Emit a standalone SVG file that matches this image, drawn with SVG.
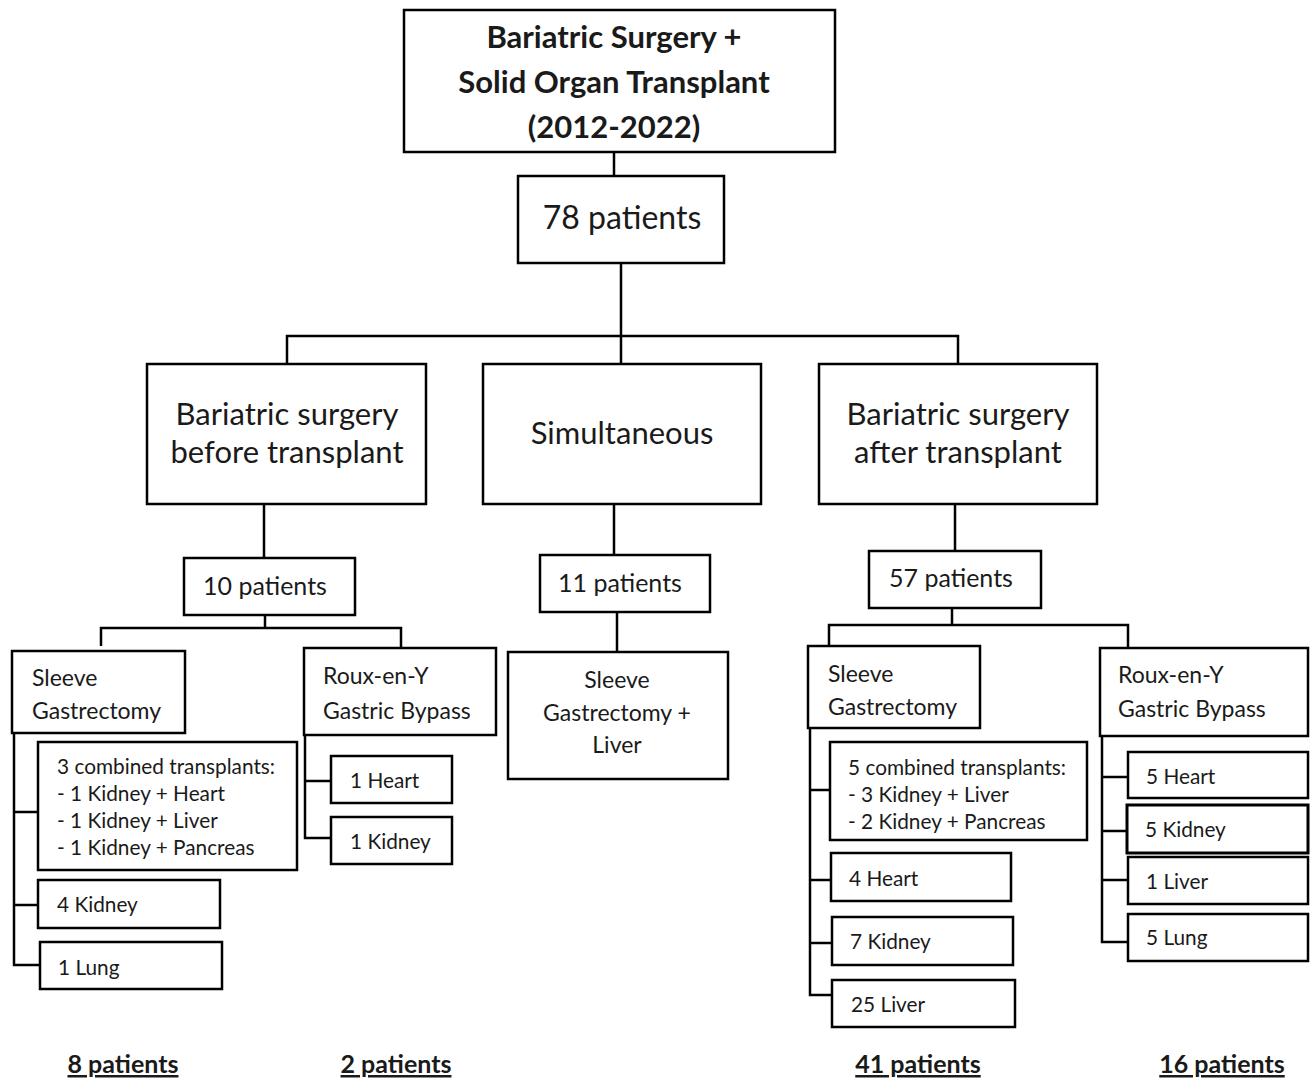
<svg xmlns="http://www.w3.org/2000/svg" width="1310" height="1079" viewBox="0 0 1310 1079">
<style>
.n rect{fill:#fff;stroke:#000;stroke-width:2.5}
#connectors path{fill:none;stroke:#000;stroke-width:2.5}
text{font-family:Lato,"Open Sans",sans-serif;fill:#1a1a1a}
.t{font-size:31px;font-weight:bold;text-anchor:middle}
.b{font-size:31px;text-anchor:middle}
.m{font-size:32px;text-anchor:middle}
.p{font-size:25px;text-anchor:middle}
.s{font-size:23px}
.c{font-size:20.8px}
.f{font-size:25px;font-weight:bold;text-anchor:middle;text-decoration:underline}
</style>
<rect width="1310" height="1079" fill="#fff"/>
<g id="connectors">
<path d="M614 152V176"/>
<path d="M621 263V364M287 364V336H958V364"/>
<path d="M264 504V558M265 615V628M101 646V628H401V648"/>
<path d="M14 733V965H40M14 812H38M14 905H38"/>
<path d="M305 735V838H331M305 781H331"/>
<path d="M614 504V555M617 612V652"/>
<path d="M955 504V551M952 608V625M829 646V625H1128V648"/>
<path d="M810 728V995H832M810 790H830M810 880H831M810 943H832"/>
<path d="M1102 736V942H1128M1102 777H1128M1102 831H1127M1102 880H1128"/>
</g>
<g id="n-top" class="n"><rect x="404" y="10" width="431" height="142"/>
<text class="t" x="614" y="48">Bariatric Surgery +</text>
<text class="t" x="614" y="93">Solid Organ Transplant</text>
<text class="t" x="614" y="138">(2012-2022)</text></g>
<g id="n-78" class="n"><rect x="518" y="176" width="206" height="87"/><text class="m" x="622" y="229">78 patients</text></g>
<g id="n-before" class="n"><rect x="147" y="364" width="279" height="140"/>
<text class="b" x="287" y="425">Bariatric surgery</text><text class="b" x="287" y="463">before transplant</text></g>
<g id="n-simul" class="n"><rect x="483" y="364" width="278" height="140"/><text class="b" x="622" y="444">Simultaneous</text></g>
<g id="n-after" class="n"><rect x="819" y="364" width="278" height="140"/>
<text class="b" x="958" y="425">Bariatric surgery</text><text class="b" x="958" y="463">after transplant</text></g>
<g id="n-10" class="n"><rect x="184" y="558" width="171" height="57"/><text class="p" x="265" y="595">10 patients</text></g>
<g id="n-11" class="n"><rect x="540" y="555" width="170" height="57"/><text class="p" x="620" y="592">11 patients</text></g>
<g id="n-57" class="n"><rect x="869" y="551" width="172" height="57"/><text class="p" x="951" y="587">57 patients</text></g>
<g id="n-sg1" class="n"><rect x="12" y="651" width="173" height="82"/>
<text class="s" x="32" y="686">Sleeve</text><text class="s" x="32" y="719">Gastrectomy</text></g>
<g id="n-ry1" class="n"><rect x="304" y="648" width="192" height="87"/>
<text class="s" x="323" y="684">Roux-en-Y</text><text class="s" x="323" y="719">Gastric Bypass</text></g>
<g id="n-comb1" class="n"><rect x="38" y="742" width="259" height="128"/>
<text class="c" x="57" y="774">3 combined transplants:</text>
<text class="c" x="57" y="801">- 1 Kidney + Heart</text>
<text class="c" x="57" y="828">- 1 Kidney + Liver</text>
<text class="c" x="57" y="855">- 1 Kidney + Pancreas</text></g>
<g id="n-4k" class="n"><rect x="38" y="880" width="182" height="48"/><text class="c" x="57" y="912">4 Kidney</text></g>
<g id="n-1lung" class="n"><rect x="40" y="942" width="182" height="47"/><text class="c" x="58" y="975">1 Lung</text></g>
<g id="n-1h" class="n"><rect x="331" y="756" width="121" height="47"/><text class="c" x="350" y="788">1 Heart</text></g>
<g id="n-1k" class="n"><rect x="331" y="817" width="121" height="47"/><text class="c" x="350" y="849">1 Kidney</text></g>
<g id="n-sgl" class="n"><rect x="508" y="652" width="220" height="127"/>
<text class="s" x="617" y="688" text-anchor="middle">Sleeve</text>
<text class="s" x="617" y="721" text-anchor="middle">Gastrectomy +</text>
<text class="s" x="617" y="753" text-anchor="middle">Liver</text></g>
<g id="n-sg2" class="n"><rect x="808" y="646" width="172" height="82"/>
<text class="s" x="828" y="682">Sleeve</text><text class="s" x="828" y="715">Gastrectomy</text></g>
<g id="n-ry2" class="n"><rect x="1100" y="648" width="208" height="88"/>
<text class="s" x="1118" y="683">Roux-en-Y</text><text class="s" x="1118" y="717">Gastric Bypass</text></g>
<g id="n-comb2" class="n"><rect x="830" y="742" width="257" height="98"/>
<text class="c" x="848" y="775">5 combined transplants:</text>
<text class="c" x="848" y="802">- 3 Kidney + Liver</text>
<text class="c" x="848" y="829">- 2 Kidney + Pancreas</text></g>
<g id="n-4h" class="n"><rect x="831" y="853" width="180" height="48"/><text class="c" x="849" y="886">4 Heart</text></g>
<g id="n-7k" class="n"><rect x="832" y="917" width="181" height="48"/><text class="c" x="850" y="949">7 Kidney</text></g>
<g id="n-25l" class="n"><rect x="832" y="980" width="183" height="47"/><text class="c" x="851" y="1012">25 Liver</text></g>
<g id="n-5h" class="n"><rect x="1128" y="752" width="180" height="46"/><text class="c" x="1146" y="784">5 Heart</text></g>
<g id="n-5k" class="n"><rect x="1127" y="805" width="181" height="48" style="stroke-width:3"/><text class="c" x="1145" y="837">5 Kidney</text></g>
<g id="n-1l" class="n"><rect x="1128" y="857" width="180" height="47"/><text class="c" x="1146" y="889">1 Liver</text></g>
<g id="n-5l" class="n"><rect x="1128" y="914" width="180" height="47"/><text class="c" x="1146" y="945">5 Lung</text></g>
<g id="totals">
<text class="f" x="123" y="1073">8 patients</text>
<text class="f" x="396" y="1073">2 patients</text>
<text class="f" x="918" y="1073">41 patients</text>
<text class="f" x="1222" y="1073">16 patients</text></g>
</svg>
